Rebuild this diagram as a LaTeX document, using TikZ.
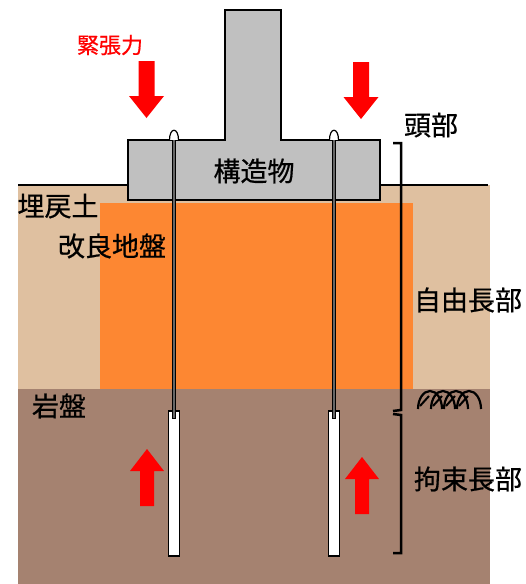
\documentclass[tikz,border=0pt]{standalone}
\usepackage{fontspec}
\newfontfamily\jpfont[UprightFeatures={FakeBold=0.6}]{Noto Sans CJK JP}
\usetikzlibrary{positioning}

\definecolor{backfill}{RGB}{223,192,160}
\definecolor{improved}{RGB}{253,135,50}
\definecolor{rockbed}{RGB}{165,130,112}
\definecolor{concrete}{RGB}{192,192,192}

\begin{document}
\begin{tikzpicture}[x=1pt,y=-1pt,
  jlabel/.style={font=\jpfont\fontsize{27}{31}\selectfont,inner sep=0pt},
  bracketline/.style={line width=2.5pt},
  anchorbody/.style={draw,fill=white,line width=1.2pt}]
% 1 unit = 1 pixel, y runs downwards
\useasboundingbox (0,0) rectangle (526,584);

% soil layers
\fill[backfill] (18,185) rectangle (490,389);
\fill[rockbed] (18,389) rectangle (490,584);
\fill[improved] (100,203) rectangle (413,389);
\draw[line width=2.5pt] (18,185) -- (488,185);

% the structure: column on a footing
\draw[fill=concrete,line width=1.5pt] (225,10) -- (281,10) -- (281,140)
  -- (380,140) -- (380,200) -- (128,200) -- (128,140) -- (225,140) -- cycle;
\node[jlabel] (struct) at (254,171) {構造物};

% ground anchors: bond body, tendon, head cap
\foreach \x in {174,334}{
  \draw[anchorbody] (\x-5.5,411) rectangle (\x+5.5,556);
  \draw[line width=4pt] (\x,136) -- (\x,419);
  \draw[line width=2pt,black!60] (\x,136) -- (\x,418);
  \draw[fill=white,line width=1.2pt] (\x-4.5,140) .. controls (\x-4.5,127) and (\x+4.5,127) .. (\x+4.5,140);}

% tension and pull-out resistance
\newcommand{\downforce}[2]{%
  \fill[red] ({#1-8},#2) -- ({#1+8},#2) -- ({#1+8},#2+35) -- ({#1+17.5},#2+35)
    -- (#1,#2+57) -- ({#1-17.5},#2+35) -- ({#1-8},#2+35) -- cycle;}
\newcommand{\upforce}[2]{%
  \fill[red] (#1,#2) -- ({#1+17},#2+22) -- ({#1+7},#2+22) -- ({#1+7},#2+57)
    -- ({#1-7},#2+57) -- ({#1-7},#2+22) -- ({#1-17},#2+22) -- cycle;}
\downforce{146.5}{61} \downforce{361}{62}
\upforce{147}{449}    \upforce{362}{457}

\node[jlabel,font=\jpfont\fontsize{22}{26}\selectfont,text=red] (tension) at (110,45) {緊張力};
\node[jlabel] (backfilltxt) at (58,206) {埋戻土};
\node[jlabel] (improvedtxt) at (112,246) {改良地盤};
\node[jlabel] (rocktxt) at (59,406) {岩盤};

% lengths along the anchor
\draw[bracketline] (393,143) -- (401,143) -- (401,410) -- (393,411);
\draw[bracketline] (393,414) -- (401,415) -- (401,553) -- (393,553);
\node[jlabel] (head) at (431,125) {頭部};
\node[jlabel] (freelen) at (468,300) {自由長部};
\node[jlabel] (bondlen) at (468,479) {拘束長部};

% rock symbol
\foreach \i in {0,...,3}{
  \draw[line width=2.2pt] (418+13*\i,409) arc[start angle=180,end angle=360,x radius=12,y radius=18];
  \draw[line width=2pt] (420+13*\i,406) -- (429+13*\i,396);}
\end{tikzpicture}
\end{document}
